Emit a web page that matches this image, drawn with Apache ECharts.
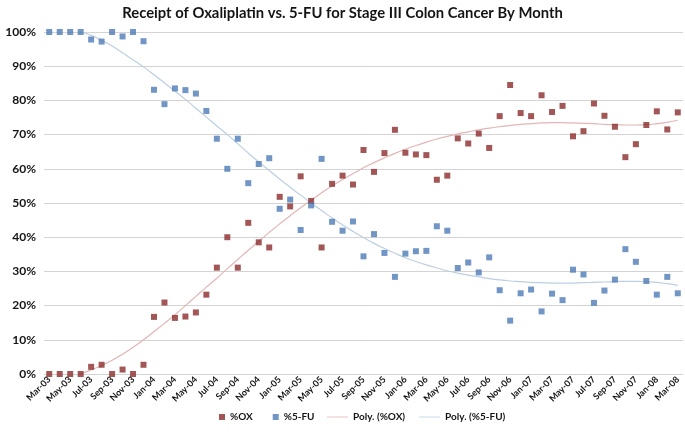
<!DOCTYPE html>
<html>
<head>
<meta charset="utf-8">
<script src="https://cdn.jsdelivr.net/npm/echarts@6/dist/echarts.min.js"></script>
<style>html,body{margin:0;padding:0;background:#fff}#c{width:685px;height:432px}</style>
</head>
<body>
<div id="c"></div>
<script>
const months = [];
const monNames = ['Jan','Feb','Mar','Apr','May','Jun','Jul','Aug','Sep','Oct','Nov','Dec'];
const startYear = 3, startMonth = 2, nMonths = 61;
for (let i = 0; i < nMonths; i++) {
  const m = (startMonth + i) % 12, y = startYear + Math.floor((startMonth + i) / 12);
  months.push(monNames[m] + '-' + String(y).padStart(2, '0'));
}

const pctOX = [0,0,0,0,2.1,2.7,0,1.3,0,2.7,
  16.7,20.9,16.4,16.8,18.0,23.2,31.1,40.0,31.1,44.2,
  38.5,37.0,51.8,49.0,57.8,50.6,37.0,55.6,58.0,55.4,
  65.5,59.1,64.6,71.4,64.7,64.2,64.0,56.8,58.0,68.9,
  67.4,70.3,66.1,75.4,84.5,76.3,75.4,81.5,76.6,78.4,
  69.5,71.0,79.1,75.5,72.3,63.4,67.2,72.8,76.8,71.5,76.5];

const pct5FU = [100,100,100,100,97.8,97.2,100,98.7,100,97.3,
  83.1,78.9,83.5,83.0,82.0,76.9,68.8,60.0,68.8,55.8,
  61.4,63.1,48.3,51.0,42.1,49.3,62.9,44.5,41.9,44.6,
  34.4,40.9,35.4,28.4,35.2,35.9,36.0,43.2,41.9,31.0,
  32.6,29.7,34.1,24.5,15.6,23.6,24.7,18.3,23.5,21.6,
  30.5,29.1,20.8,24.4,27.6,36.5,32.8,27.2,23.2,28.4,23.6];

// Trend lines (clipped before Jun-03)
const polyOX = [null,null,null,0,1.2,2.5,4.0,5.8,7.8,10.0,
  12.4,14.8,17.3,20.0,22.7,25.4,28.0,30.8,33.5,36.2,
  38.8,41.4,43.9,46.3,48.6,50.8,53.0,55.0,56.9,58.6,
  60.3,61.8,63.2,64.5,65.7,66.8,67.8,68.7,69.5,70.2,
  70.8,71.4,71.9,72.3,72.7,73.0,73.2,73.4,73.5,73.5,
  73.4,73.3,73.2,73.0,72.9,72.8,72.8,72.9,73.2,73.6,74.2];
const poly5FU = [null,null,null,100,99.0,97.6,95.9,93.9,91.9,89.8,
  87.5,85.1,82.7,80.3,77.7,75.1,72.5,70.0,67.3,64.6,
  62.0,59.5,57.0,54.6,52.3,50.0,47.8,45.6,43.6,41.7,
  39.9,38.2,36.7,35.3,34.0,32.9,31.9,31.0,30.2,29.5,
  28.9,28.4,27.9,27.5,27.2,27.0,26.8,26.7,26.6,26.6,
  26.6,26.7,26.8,26.9,27.0,27.1,27.1,27.0,26.8,26.4,25.9];

const yTicks = [0,10,20,30,40,50,60,70,80,90,100];

const FONT = 'Lato';
const TXT = '#141414';
const legendText = { fontFamily: FONT, fontWeight: 'bold', fontSize: 10, color: TXT };
const chart = echarts.init(document.getElementById('c'));
chart.setOption({
  animation: false,
  backgroundColor: '#fff',
  title: {
    text: 'Receipt of Oxaliplatin vs. 5-FU for Stage III Colon Cancer By Month',
    left: 'center', top: 1,
    textStyle: { fontFamily: FONT, fontWeight: 'bold', fontSize: 14.8, color: TXT }
  },
  legend: [
    {
      bottom: 5, left: 214, itemGap: 20, itemWidth: 6, itemHeight: 6,
      textStyle: legendText,
      data: [
        { name: '%OX', icon: 'rect' },
        { name: '%5-FU', icon: 'rect' }
      ]
    },
    {
      bottom: 5, left: 322, itemGap: 14, itemWidth: 21, itemHeight: 6,
      textStyle: legendText,
      data: [
        { name: 'Poly. (%OX)', icon: 'path://M0,2.6L21,2.6L21,3.4L0,3.4Z' },
        { name: 'Poly. (%5-FU)', icon: 'path://M0,2.6L21,2.6L21,3.4L0,3.4Z' }
      ]
    }
  ],
  grid: { left: 44, right: 2, top: 32, bottom: 58 },
  xAxis: {
    type: 'category',
    data: months,
    boundaryGap: true,
    axisLine: { show: false },
    axisTick: { show: false },
    axisLabel: {
      interval: 1, rotate: 45, fontFamily: FONT, fontWeight: 'bold', fontSize: 9, color: TXT, margin: 4
    }
  },
  yAxis: {
    type: 'value', min: 0, max: 100, interval: 10,
    axisLine: { show: false },
    axisTick: { show: false },
    splitLine: { lineStyle: { color: '#d4d4d4', width: 1 } },
    axisLabel: {
      fontFamily: FONT, fontWeight: 'bold', fontSize: 12, color: TXT, margin: 8,
      formatter: v => yTicks.includes(v) ? v + '%' : ''
    }
  },
  series: [
    {
      name: 'Poly. (%OX)', type: 'line', data: polyOX, smooth: true, symbol: 'none',
      lineStyle: { color: '#e2b6b5', width: 1.2 }, itemStyle: { color: '#e2b6b5' }, z: 1
    },
    {
      name: 'Poly. (%5-FU)', type: 'line', data: poly5FU, smooth: true, symbol: 'none',
      lineStyle: { color: '#bccfe2', width: 1.2 }, itemStyle: { color: '#bccfe2' }, z: 1
    },
    {
      name: '%OX', type: 'scatter', data: pctOX, symbol: 'rect', symbolSize: 6,
      itemStyle: { color: '#8B2C2C' }, z: 3
    },
    {
      name: '%5-FU', type: 'scatter', data: pct5FU, symbol: 'rect', symbolSize: 6,
      itemStyle: { color: '#4E7AB5' }, z: 3
    }
  ]
});
</script>
</body>
</html>
